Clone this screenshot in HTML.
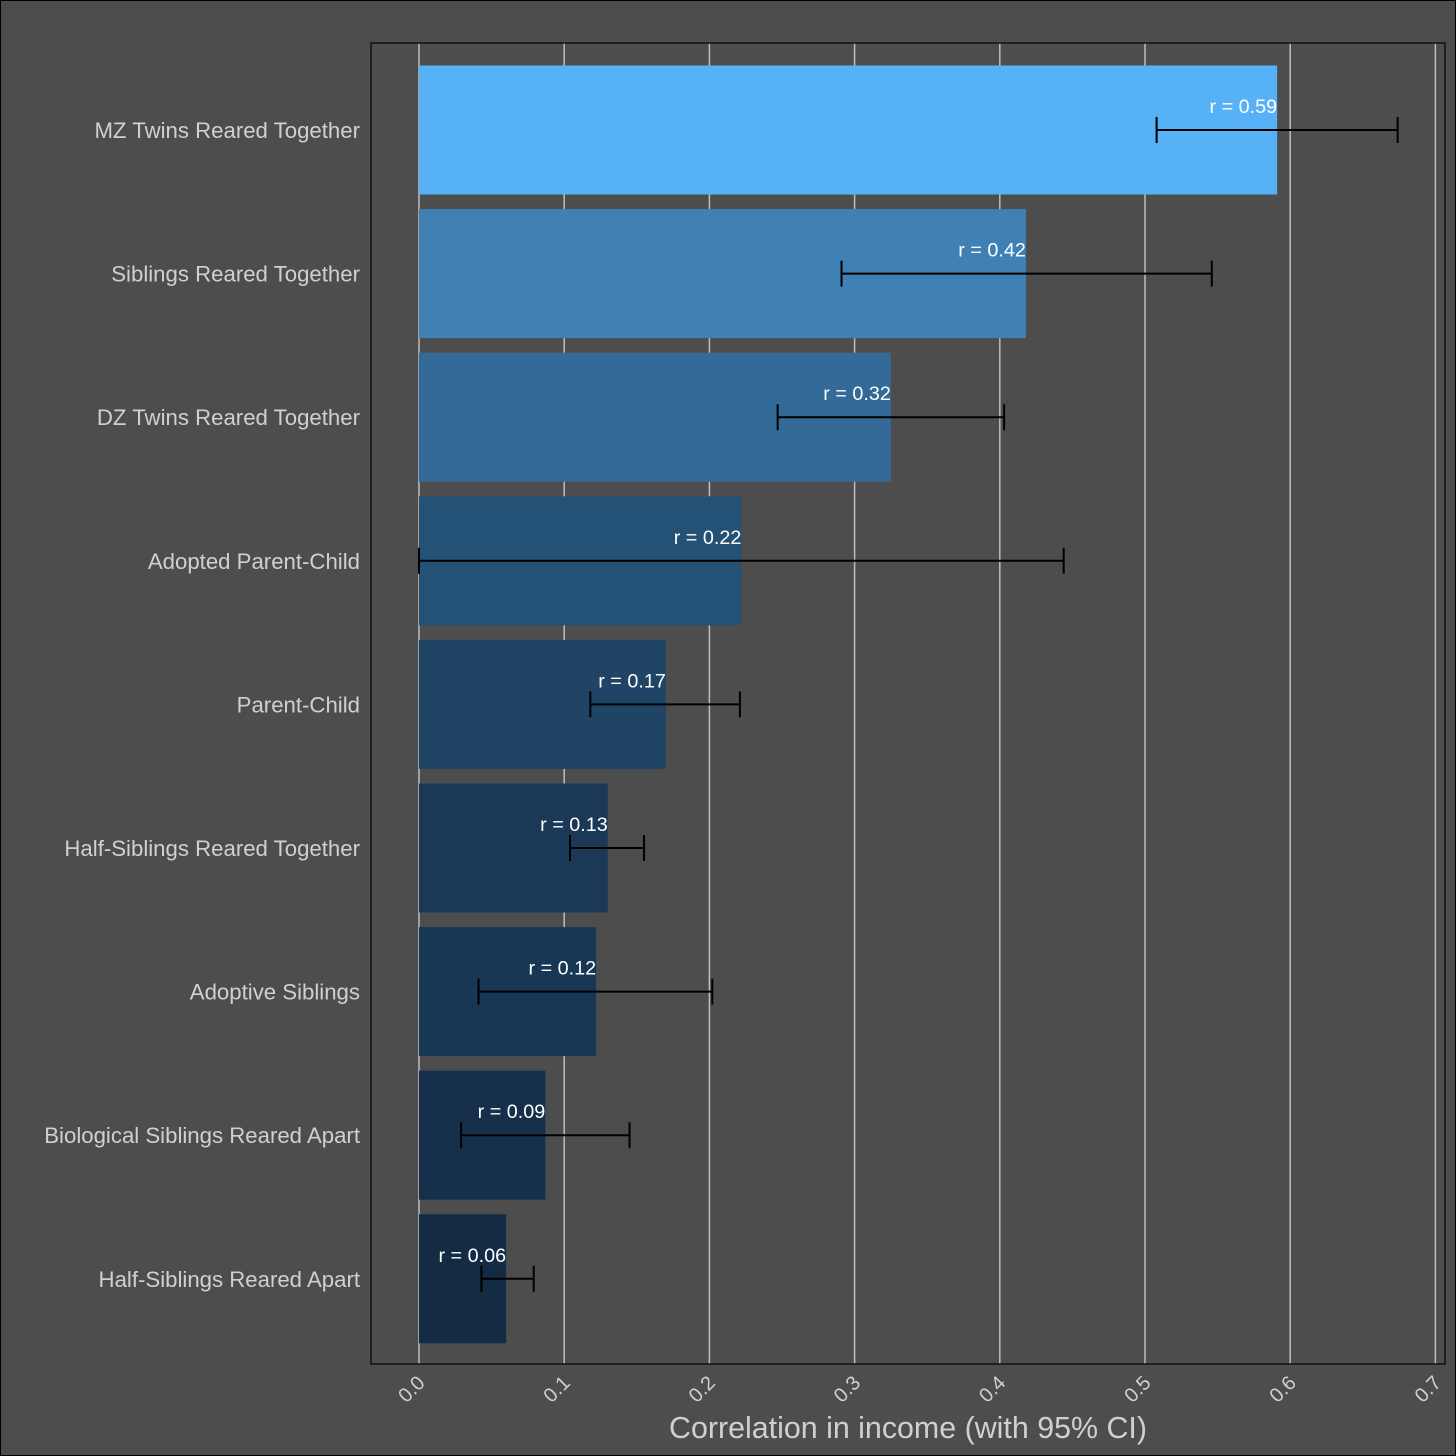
<!DOCTYPE html>
<html><head><meta charset="utf-8"><style>
html,body{margin:0;padding:0;background:#4d4d4d;}
svg{display:block;font-family:"Liberation Sans",Arial,sans-serif;}
</style></head><body>
<svg id="chart" width="1456" height="1456" viewBox="0 0 1456 1456" xmlns="http://www.w3.org/2000/svg">
<rect x="0.5" y="0.5" width="1455" height="1455" fill="#4d4d4d" stroke="#000" stroke-width="1"/>
<g id="grid"></g>
<g id="bars"></g>
<g id="errs"></g>
<g id="labels"></g>
<rect x="371" y="43" width="1074" height="1321" fill="none" stroke="#111" stroke-width="1.5"/>
<g id="ylab"></g>
<g id="xlab"></g>
<text x="908" y="1438" text-anchor="middle" font-size="30.4" fill="#d0d0d0">Correlation in income (with 95% CI)</text>
</svg>
<script>
const categories=["MZ Twins Reared Together","Siblings Reared Together","DZ Twins Reared Together","Adopted Parent-Child","Parent-Child","Half-Siblings Reared Together","Adoptive Siblings","Biological Siblings Reared Apart","Half-Siblings Reared Apart"];
const values=[0.591,0.418,0.325,0.222,0.170,0.130,0.122,0.087,0.060];
const ciLow=[0.508,0.291,0.247,0.000,0.118,0.104,0.041,0.029,0.043];
const ciHigh=[0.674,0.546,0.403,0.444,0.221,0.155,0.202,0.145,0.079];
const valueLabels=["r = 0.59","r = 0.42","r = 0.32","r = 0.22","r = 0.17","r = 0.13","r = 0.12","r = 0.09","r = 0.06"];
const colors=["#56b1f7","#3f81b5","#336a98","#245277","#1f4466","#1b3956","#183754","#16304c","#132b43"];
const xTicks=[0,0.1,0.2,0.3,0.4,0.5,0.6,0.7];
const xTickLabels=["0.0","0.1","0.2","0.3","0.4","0.5","0.6","0.7"];

const NS="http://www.w3.org/2000/svg";
const x=v=>419+v*1452;
const yc=i=>130+i*143.6;
const bh=129;
function mk(parent,tag,attrs){const e=document.createElementNS(NS,tag);for(const k in attrs)e.setAttribute(k,attrs[k]);document.getElementById(parent).appendChild(e);return e;}

xTicks.forEach((t,i)=>{
  const g=mk("grid","line",{x1:x(t),x2:x(t),y1:43,y2:1364,stroke:"#bdbdbd","stroke-width":1.5});
  
  
  const tx=mk("xlab","text",{x:x(t)+7,y:1384,"text-anchor":"end","font-size":20,fill:"#d0d0d0",transform:`rotate(-45 ${x(t)+7} 1384)`});
  tx.textContent=xTickLabels[i];
  
  
});
categories.forEach((c,i)=>{
  const cy=yc(i);
  const r=mk("bars","rect",{x:x(0),y:cy-bh/2,width:x(values[i])-x(0),height:bh,fill:colors[i]});
  
  
  const p=`M${x(ciLow[i])},${cy}H${x(ciHigh[i])}M${x(ciLow[i])},${cy-13}V${cy+13}M${x(ciHigh[i])},${cy-13}V${cy+13}`;
  const e=mk("errs","path",{d:p,stroke:"#000","stroke-width":2,fill:"none"});
  
  
  const l=mk("labels","text",{x:x(values[i]),y:cy-17,"text-anchor":"end","font-size":19.8,fill:"#ffffff"});
  l.textContent=valueLabels[i];
  
  
  const yl=mk("ylab","text",{x:360,y:cy+8,"text-anchor":"end","font-size":22.2,fill:"#d0d0d0"});
  yl.textContent=c;
  
  
});
</script>
</body></html>
